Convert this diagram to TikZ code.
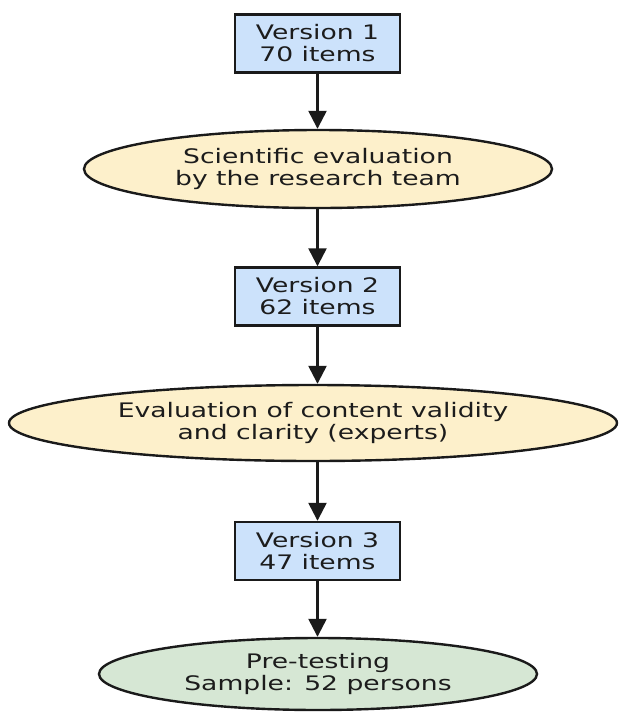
\documentclass[tikz,border=0pt]{standalone}
\usepackage{fontspec}
\setmainfont{DejaVu Sans}[FakeStretch=1.33]
\usetikzlibrary{shapes.geometric,arrows.meta}
\definecolor{boxblue}{HTML}{CCE2FB}
\definecolor{ellyellow}{HTML}{FDF0CB}
\definecolor{ellgreen}{HTML}{D6E7D4}
\definecolor{edgegray}{HTML}{1A1A1A}
\definecolor{txtgray}{HTML}{1C1C1C}
\begin{document}
\begin{tikzpicture}[x=1pt,y=-1pt,
  every node/.style={font=\fontsize{20}{22}\selectfont, text=txtgray, align=center, inner sep=0pt},
  verbox/.style={draw=edgegray, line width=2.4pt, fill=boxblue, minimum width=165pt, minimum height=58pt},
  evalell/.style={ellipse, draw=edgegray, line width=2.4pt, fill=ellyellow},
  testell/.style={ellipse, draw=edgegray, line width=2.4pt, fill=ellgreen},
  flow/.style={draw=edgegray, line width=2.4pt, -{Triangle[width=18pt,length=18pt]}}
]
\useasboundingbox (0,0) rectangle (625,713);
\node[verbox] (v1) at (317.5,43.5) {Version 1\\70 items};
\node[evalell, minimum width=468pt, minimum height=78pt] (e1) at (318,169) {Scientific evaluation\\by the research team};
\node[verbox] (v2) at (317.5,296.5) {Version 2\\62 items};
\node[evalell, minimum width=608pt, minimum height=76pt] (e2) at (313,423) {Evaluation of content validity\\and clarity (experts)};
\node[verbox] (v3) at (317.5,551) {Version 3\\47 items};
\node[testell, minimum width=438pt, minimum height=72pt] (e3) at (318,674) {Pre-testing\\Sample: 52 persons};
\draw[flow] (v1) -- (v1 |- e1.north);
\draw[flow] (e1.south -| v2) -- (v2);
\draw[flow] (v2) -- (v2 |- e2.north);
\draw[flow] (e2.south -| v3) -- (v3);
\draw[flow] (v3) -- (v3 |- e3.north);
\end{tikzpicture}
\end{document}
